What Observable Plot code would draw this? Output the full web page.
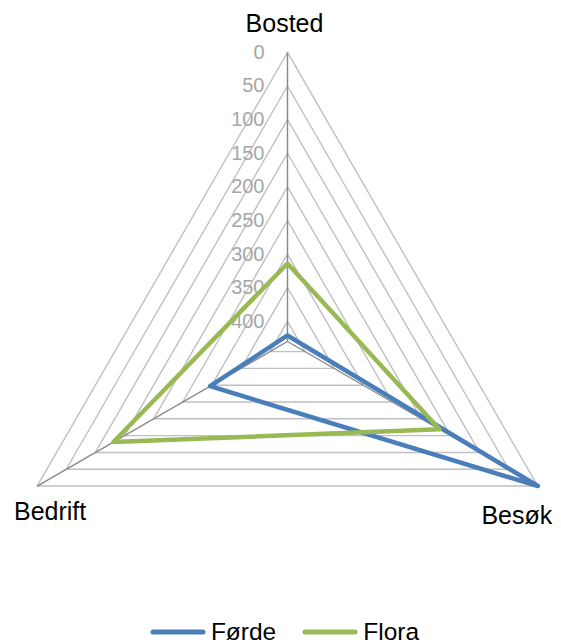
<!DOCTYPE html>
<html>
<head>
<meta charset="utf-8">
<script src="https://cdn.jsdelivr.net/npm/d3@7"></script>
<script src="https://cdn.jsdelivr.net/npm/@observablehq/plot@0.6"></script>
<style>
  body { margin: 0; background: #fff; font-family: "Liberation Sans", Arial, sans-serif; }
  #legend { display: flex; justify-content: center; align-items: center; height: 43px; padding-top: 10px; padding-left: 8px; font-size: 24.5px; color: #000; }
  .item { display: flex; align-items: center; }
  .item svg { margin-right: 5px; }
</style>
</head>
<body>
<div id="chart"></div>
<div id="legend"></div>
<script>
const categories = ["Bosted", "Besøk", "Bedrift"];
const fordeValues = [421, 0, 297];
const floraValues = [314, 169, 131];
const seriesNames = ["Førde", "Flora"];
const seriesColors = ["#4a7ebb", "#98b954"];
const tickValues = [0, 50, 100, 150, 200, 250, 300, 350, 400];
const axisMax = 430;

const W = 561, H = 600;
const cx = 287, cy = 341, Rpx = 289.1;
const k = axisMax / Rpx;

function pos(i, v) {
  const r = axisMax - v;
  const t = i * 2 * Math.PI / categories.length;
  return { x: r * Math.sin(t), y: r * Math.cos(t) };
}

const rings = [];
tickValues.forEach(v => categories.forEach((c, i) => rings.push({ v, ...pos(i, v) })));
const spokes = categories.map((c, i) => ({ c, ...pos(i, 0) }));
const series = [];
[fordeValues, floraValues].forEach((vals, s) =>
  vals.forEach((v, i) => series.push({ name: seriesNames[s], ...pos(i, v) })));
const tickLabels = tickValues.map(v => ({ v, ...pos(0, v) }));

const catOffsets = { "Bosted": [-3, -28], "Besøk": [-21, 30], "Bedrift": [13, 26] };

const chart = Plot.plot({
  width: W, height: H, margin: 0,
  style: { fontFamily: '"Liberation Sans", Arial, sans-serif', background: "#fff" },
  x: { domain: [-cx * k, (W - cx) * k], range: [0, W], axis: null },
  y: { domain: [-(H - cy) * k, cy * k], range: [H, 0], axis: null },
  color: { domain: seriesNames, range: seriesColors },
  marks: [
    Plot.line(rings, { x: "x", y: "y", z: "v", curve: "linear-closed", stroke: "#c0c0c0", strokeWidth: 1.4 }),
    Plot.link(spokes, { x1: 0, y1: 0, x2: "x", y2: "y", stroke: "#878787", strokeWidth: 1.4 }),
    Plot.text(tickLabels, { x: "x", y: "y", text: d => String(d.v), textAnchor: "end", dx: -23, fill: "#a6a6a6", fontSize: 20 }),
    Plot.line(series, { x: "x", y: "y", z: "name", stroke: "name", curve: "linear-closed", strokeWidth: 4.5, strokeLinejoin: "round" }),
    ...categories.map((c, i) => Plot.text([spokes[i]], { x: "x", y: "y", text: "c", fontSize: 25, fill: "#000", dx: catOffsets[c][0], dy: catOffsets[c][1] }))
  ]
});
document.getElementById("chart").appendChild(chart);

const legend = document.getElementById("legend");
seriesNames.forEach((n, i) => {
  const item = document.createElement("div");
  item.className = "item";
  item.style.marginLeft = i ? "26px" : "0";
  item.innerHTML = `<svg width="56" height="8"><line x1="3" y1="4" x2="53" y2="4" stroke="${seriesColors[i]}" stroke-width="5" stroke-linecap="round"/></svg><span>${n}</span>`;
  legend.appendChild(item);
});
</script>
</body>
</html>
